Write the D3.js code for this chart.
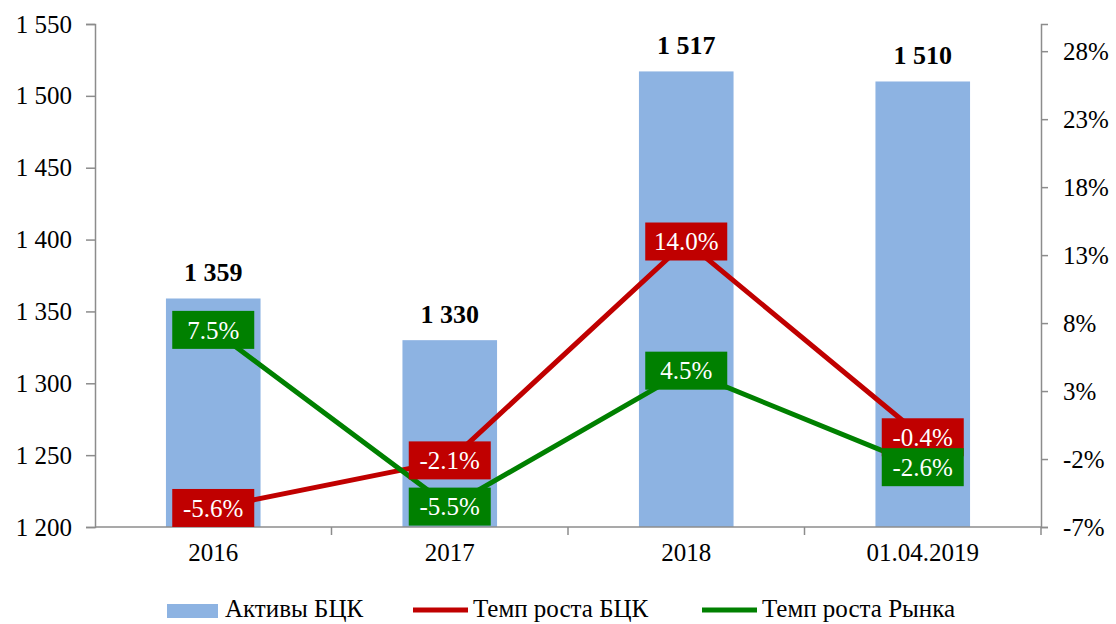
<!DOCTYPE html>
<html><head><meta charset="utf-8">
<script src="https://cdn.jsdelivr.net/npm/d3@7"></script>
<style>body{margin:0;background:#fff}svg{display:block}text{font-family:"Liberation Serif","Times New Roman",serif}</style>
</head><body><svg id="c" width="1116" height="624"></svg>
<script>
const categories = ["2016", "2017", "2018", "01.04.2019"];
const assets = [1359, 1330, 1517, 1510];
const growthBank = [-5.6, -2.1, 14.0, -0.4];
const growthMarket = [7.5, -5.5, 4.5, -2.6];
const leftTicks = [1200, 1250, 1300, 1350, 1400, 1450, 1500, 1550];
const rightTicks = [-7, -2, 3, 8, 13, 18, 23, 28];
const legendLabels = ["Активы БЦК", "Темп роста БЦК", "Темп роста Рынка"];

const BAR = "#8DB3E2", RED = "#C00000", GREEN = "#008000", AXIS = "#8c8c8c";
const svg = d3.select("#c");
const L = 95, R = 1041, T = 24, B = 527;

const x = d3.scaleBand().domain(categories).range([L, R]).paddingInner(0.6).paddingOuter(0.3);
const yL = d3.scaleLinear().domain([1200, 1550]).range([B, T]);
const yR = d3.scaleLinear().domain([-7, 30]).range([B, T]);
const loc = d3.formatLocale({decimal: ".", thousands: " ", grouping: [3], currency: ["", ""], minus: "-"});
const fmtN = loc.format(",d");
const fmtP = v => v.toFixed(1) + "%";
const cx = c => x(c) + x.bandwidth() / 2;

// bars
svg.append("g").selectAll("rect").data(categories).join("rect")
  .attr("x", c => x(c)).attr("width", x.bandwidth())
  .attr("y", (c, i) => yL(assets[i])).attr("height", (c, i) => B - yL(assets[i]))
  .attr("fill", BAR);

// left axis
const gl = svg.append("g").attr("transform", `translate(${L},0)`)
  .call(d3.axisLeft(yL).tickValues(leftTicks).tickFormat(fmtN).tickSize(9).tickPadding(14));
// right axis
const gr = svg.append("g").attr("transform", `translate(${R},0)`)
  .call(d3.axisRight(yR).tickValues(rightTicks).tickFormat(d => d + "%").tickSize(7).tickPadding(15));
// bottom axis
const gb = svg.append("g").attr("transform", `translate(0,${B})`)
  .call(d3.axisBottom(x).tickSize(0).tickPadding(16));
for (const g of [gl, gr, gb]) {
  g.select(".domain").attr("stroke", AXIS).attr("stroke-width", 1.5);
  g.selectAll(".tick line").attr("stroke", AXIS).attr("stroke-width", 1.5);
  g.selectAll(".tick text").attr("fill", "#000").attr("font-size", 25)
    .attr("font-family", '"Liberation Serif","Times New Roman",serif');
}
gb.select(".domain").attr("d", `M${L},0H${R}`);
// category boundary ticks
const step = x.step();
const bounds = categories.map(c => cx(c) + step / 2);
gb.selectAll(".btick").data(bounds).join("line").attr("class", "btick")
  .attr("x1", d => d).attr("x2", d => d).attr("y1", 0).attr("y2", 8)
  .attr("stroke", AXIS).attr("stroke-width", 1.5);

// bar value labels
svg.append("g").selectAll("text").data(categories).join("text")
  .attr("x", cx).attr("y", (c, i) => yL(assets[i]) - 17)
  .attr("text-anchor", "middle").attr("font-size", 26).attr("font-weight", "bold")
  .text((c, i) => fmtN(assets[i]));

// lines
const line = d3.line().x(d => cx(d.c)).y(d => yR(d.v));
const series = [
  {vals: growthBank, color: RED},
  {vals: growthMarket, color: GREEN}
];
series.forEach(s => {
  svg.append("path").datum(categories.map((c, i) => ({c, v: s.vals[i]})))
    .attr("d", line).attr("fill", "none").attr("stroke", s.color).attr("stroke-width", 5)
    .attr("stroke-linejoin", "round");
});
// label boxes
const bw = 82, bh = 38;
series.forEach(s => {
  const g = svg.append("g").selectAll("g").data(categories).join("g")
    .attr("transform", (c, i) => `translate(${cx(c)},${yR(s.vals[i])})`);
  g.append("rect").attr("x", -bw / 2).attr("y", -bh / 2).attr("width", bw).attr("height", bh).attr("fill", s.color);
  g.append("text").attr("text-anchor", "middle").attr("dy", "0.35em").attr("font-size", 25)
    .attr("fill", "#fff").text((c, i) => fmtP(s.vals[i]));
});

// legend
const lg = svg.append("g");
lg.append("rect").attr("x", 167).attr("y", 604).attr("width", 51).attr("height", 14).attr("fill", BAR);
lg.append("text").attr("x", 225).attr("y", 617).attr("font-size", 25).text(legendLabels[0]);
lg.append("line").attr("x1", 413).attr("x2", 468).attr("y1", 610).attr("y2", 610).attr("stroke", RED).attr("stroke-width", 5);
lg.append("text").attr("x", 473).attr("y", 617).attr("font-size", 25).text(legendLabels[1]);
lg.append("line").attr("x1", 702).attr("x2", 757).attr("y1", 610).attr("y2", 610).attr("stroke", GREEN).attr("stroke-width", 5);
lg.append("text").attr("x", 762).attr("y", 617).attr("font-size", 25).text(legendLabels[2]);
</script></body></html>
